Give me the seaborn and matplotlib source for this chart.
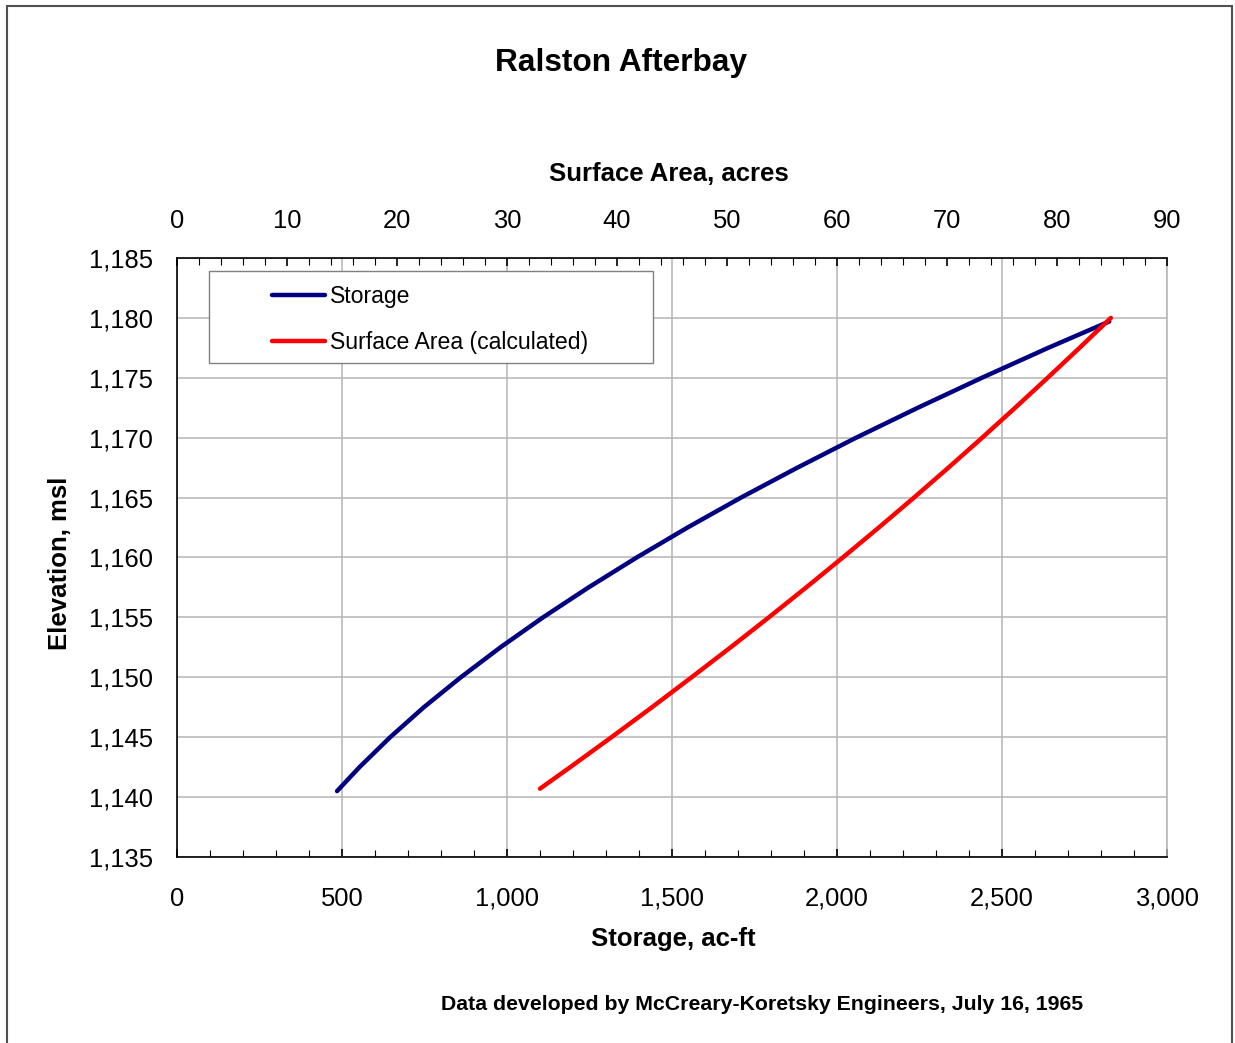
import matplotlib
matplotlib.use("Agg")
import matplotlib.pyplot as plt
import matplotlib.ticker as mticker
from matplotlib.patches import Rectangle
from matplotlib.lines import Line2D
import seaborn as sns
import pandas as pd

# data
storage_elev = [1140.5, 1142.5, 1145, 1147.5, 1150, 1152.5, 1155, 1157.5, 1160,
                1162.5, 1165, 1167.5, 1170, 1172.5, 1175, 1177.5, 1179.7]
storage_acft = [485, 553, 646, 748, 860, 980, 1109, 1247, 1393,
                1547, 1709, 1880, 2058, 2245, 2439, 2640, 2825]

area_elev = [1140.7, 1142.5, 1145, 1147.5, 1150, 1152.5, 1155, 1157.5, 1160,
             1162.5, 1165, 1167.5, 1170, 1172.5, 1175, 1177.5, 1180]
area_acres = [33.0, 35.75, 39.5, 43.18, 46.78, 50.33, 53.8, 57.2, 60.53,
              63.8, 67.0, 70.13, 73.2, 76.2, 79.15, 82.05, 84.9]

title = "Ralston Afterbay"
footer = "Data developed by McCreary-Koretsky Engineers, July 16, 1965"

sns.set_style("white")
plt.rcParams['font.family'] = ['Liberation Sans', 'DejaVu Sans']
plt.rcParams.update({'text.color': 'black', 'axes.labelcolor': 'black',
                     'xtick.color': 'black', 'ytick.color': 'black'})

W, H = 1235, 1043
fig = plt.figure(figsize=(W / 100, H / 100), dpi=100)
ax = fig.add_axes([177 / W, 1 - 857 / H, 990 / W, 599 / H])

grid_col = '#b4b4b4'
df_s = pd.DataFrame({'storage': storage_acft, 'elev': storage_elev})
df_a = pd.DataFrame({'area': area_acres, 'elev': area_elev})

sns.lineplot(data=df_s, x='storage', y='elev', ax=ax, color='#000080', lw=3.2,
             sort=False, estimator=None, solid_capstyle='round', zorder=3)
ax.set_xlim(0, 3000)
ax.set_ylim(1135, 1185)
ax.xaxis.set_major_locator(mticker.MultipleLocator(500))
ax.xaxis.set_minor_locator(mticker.MultipleLocator(100))
ax.yaxis.set_major_locator(mticker.MultipleLocator(5))
ax.yaxis.set_minor_locator(mticker.MultipleLocator(1))
fmt = mticker.FuncFormatter(lambda v, p: f"{v:,.0f}")
ax.xaxis.set_major_formatter(fmt)
ax.yaxis.set_major_formatter(fmt)
ax.grid(True, which='major', color=grid_col, lw=1.1)
ax.tick_params(which='both', direction='in', top=False, right=False, color='black')
ax.tick_params(which='major', length=6, width=1.2, labelsize=18.4)
ax.tick_params(axis='x', which='major', pad=21.5)
ax.tick_params(axis='y', which='major', pad=17.4)
ax.tick_params(which='minor', length=5, width=0.8)
for s in ['left', 'bottom']:
    ax.spines[s].set_color('black')
    ax.spines[s].set_linewidth(1.2)
ax.spines['right'].set_color(grid_col)
ax.spines['right'].set_linewidth(1.1)
ax.spines['top'].set_visible(False)

ax.set_xlabel("Storage, ac-ft", fontsize=18.5, fontweight='bold', va='center')
ax.xaxis.set_label_coords(0.501, -(939 - 857) / 599)
ax.set_ylabel("Elevation, msl", fontsize=18.5, fontweight='bold', va='center')
ax.yaxis.set_label_coords((60 - 177) / 990, (857 - 563) / 599)

ax2 = ax.twiny()
sns.lineplot(data=df_a, x='area', y='elev', ax=ax2, color='#ff0000', lw=3.2,
             sort=False, estimator=None, solid_capstyle='round', zorder=3)
ax2.set_xlim(0, 90)
ax2.set_ylim(1135, 1185)
ax2.xaxis.set_major_locator(mticker.MultipleLocator(10))
ax2.xaxis.set_minor_locator(mticker.MultipleLocator(2))
ax2.tick_params(which='both', direction='in', top=True, bottom=False, color='black')
ax2.tick_params(which='major', length=6, width=1.2, labelsize=18.4, pad=18.0)
ax2.tick_params(which='minor', length=5, width=0.8)
ax2.grid(False)
ax2.spines['top'].set_color('black')
ax2.spines['top'].set_linewidth(1.2)
for s in ['left', 'bottom', 'right']:
    ax2.spines[s].set_visible(False)
ax2.set_xlabel("Surface Area, acres", fontsize=18.5, fontweight='bold', va='center')
ax2.xaxis.set_label_coords(0.497, (857 - 174) / 599)
ax2.set_ylabel('')

# legend box and entries
fig.patches.append(Rectangle((209 / W, 1 - 363 / H), 444 / W, 92 / H, transform=fig.transFigure,
                             facecolor='white', edgecolor='#808080', lw=1.0, zorder=4))
handles = [Line2D([], [], color='#000080', lw=3.2, solid_capstyle='round'),
           Line2D([], [], color='#ff0000', lw=3.2, solid_capstyle='round')]
fig.legend(handles, ["Storage", "Surface Area (calculated)"], loc='upper left',
           bbox_to_anchor=(272 / W, 1 - 285 / H), bbox_transform=fig.transFigure,
           frameon=False, borderpad=0, borderaxespad=0, fontsize=16.6,
           handlelength=2.29, handletextpad=0.22, labelspacing=1.01)

fig.text(621 / W, 1 - 63 / H, title, ha='center', va='center', fontsize=22.8, fontweight='bold')
fig.text(762.5 / W, 1 - 1005 / H, footer, ha='center', va='center', fontsize=15.3, fontweight='bold')

# outer chart border
fig.patches.append(Rectangle((6.5 / W, -0.02), (1232 - 6.5) / W, 1.02 - 6 / H,
                             transform=fig.transFigure, fill=False, edgecolor='#505050', lw=1.5))

fig.savefig("out.png", dpi=100)
